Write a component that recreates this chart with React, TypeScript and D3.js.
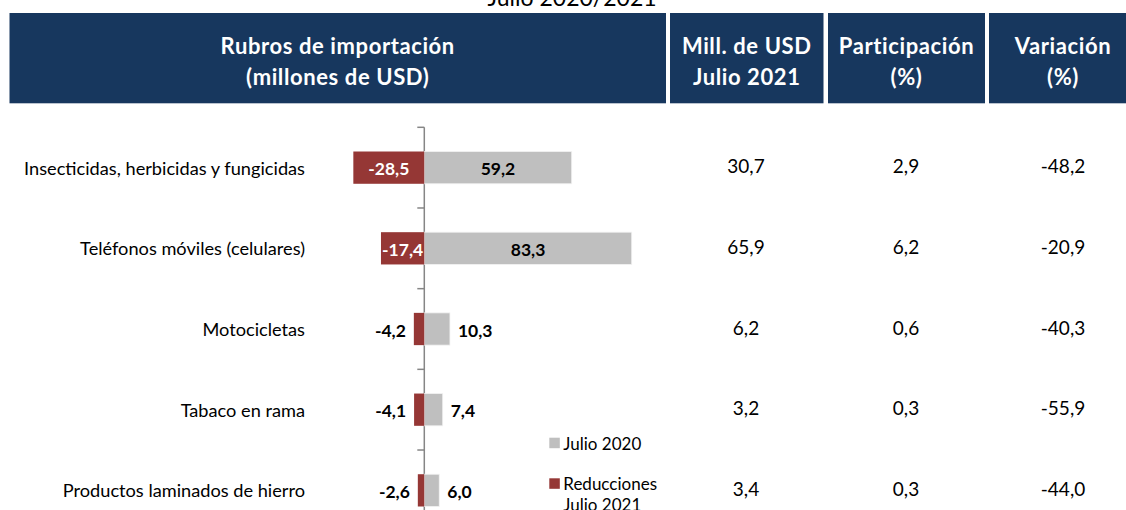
import React from "react";
import * as d3 from "d3";

// rubros y valores (millones de USD)
const categories = [
  "Insecticidas, herbicidas y fungicidas",
  "Teléfonos móviles (celulares)",
  "Motocicletas",
  "Tabaco en rama",
  "Productos laminados de hierro",
];
const julio2020 = [59.2, 83.3, 10.3, 7.4, 6.0];
const reducciones = [-28.5, -17.4, -4.2, -4.1, -2.6];
const mill2021 = [30.7, 65.9, 6.2, 3.2, 3.4];
const participacion = [2.9, 6.2, 0.6, 0.3, 0.3];
const variacion = [-48.2, -20.9, -40.3, -55.9, -44.0];

const headers = [
  ["Rubros de importación", "(millones de USD)"],
  ["Mill. de USD", "Julio 2021"],
  ["Participación", "(%)"],
  ["Variación", "(%)"],
];
const legendLabels = [["Julio 2020"], ["Reducciones", "Julio 2021"]];

const W = 1126, H = 510;
const BLUE = "#17375E", RED = "#953735", GRAY = "#BFBFBF";
const FONT = "Lato, 'Open Sans', sans-serif";

const fmt = (v: number) => v.toFixed(1).replace(".", ",");

export default function App() {
  const x = d3.scaleLinear().domain([-40, 100]).range([324.7, 673.3]);
  const y = d3
    .scaleBand<string>()
    .domain(categories)
    .range([127.3, 530.7])
    .paddingInner(0.6)
    .paddingOuter(0.3);
  const bw = y.bandwidth();
  const x0 = x(0);

  // header boxes
  const boxes = [
    [9.5, 666],
    [670, 823.5],
    [828, 985],
    [989, 1137],
  ];
  const colX = [746, 906, 1063];

  const ticks = categories.map((c) => (y(c) as number) - y.step() * 0.3);
  ticks.push(530.7);

  return (
    <svg
      width={W}
      height={H}
      style={{ position: "absolute", left: 0, top: 0, background: "#fff" }}
      fontFamily={FONT}
    >
      <text x={572} y={6} textAnchor="middle" fontSize={23} fill="#000">
        Julio 2020/2021
      </text>

      {boxes.map(([a, b], i) => (
        <g key={i}>
          <rect x={a} y={13} width={b - a} height={90.3} fill={BLUE} />
          {headers[i].map((t, j) => (
            <text
              key={j}
              x={(a + b) / 2}
              y={45 + j * 31}
              textAnchor="middle"
              dominantBaseline="central"
              fill="#fff"
              fontWeight="bold"
              fontSize={22}
              letterSpacing={0.6}
            >
              {t}
            </text>
          ))}
        </g>
      ))}

      {/* axis */}
      <line x1={x0} x2={x0} y1={127.3} y2={530.7} stroke="#868686" strokeWidth={1.5} />
      {ticks.map((t, i) => (
        <line key={i} x1={x0 - 7} x2={x0} y1={t} y2={t} stroke="#868686" strokeWidth={1.5} />
      ))}

      {categories.map((c, i) => {
        const top = y(c) as number;
        const cy = top + bw / 2;
        const g = julio2020[i];
        const r = reducciones[i];
        const gw = x(g) - x0;
        const rw = x0 - x(r);
        const gIn = gw > 60;
        const rIn = rw > 40;
        return (
          <g key={c}>
            <text
              x={305}
              y={cy}
              textAnchor="end"
              dominantBaseline="central"
              fontSize={18.2}
              fill="#000"
            >
              {c}
            </text>
            <rect x={x0} y={top} width={gw} height={bw} fill={GRAY} stroke="#f2f2f2" strokeWidth={0.8} />
            <rect x={x(r)} y={top} width={rw} height={bw} fill={RED} />
            <text
              x={gIn ? x0 + gw / 2 : x(g) + 8}
              y={cy + 1}
              textAnchor={gIn ? "middle" : "start"}
              dominantBaseline="central"
              fontWeight="bold"
              fontSize={17.5}
              fill="#000"
            >
              {fmt(g)}
            </text>
            <text
              x={rIn ? x(r) + rw / 2 : x(r) - 8}
              y={cy + 1}
              textAnchor={rIn ? "middle" : "end"}
              dominantBaseline="central"
              fontWeight="bold"
              fontSize={17.5}
              fill={rIn ? "#fff" : "#000"}
            >
              {fmt(r)}
            </text>
            {[mill2021[i], participacion[i], variacion[i]].map((v, k) => (
              <text
                key={k}
                x={colX[k]}
                y={cy - 2}
                textAnchor="middle"
                dominantBaseline="central"
                fontSize={19}
                fill="#000"
              >
                {fmt(v)}
              </text>
            ))}
          </g>
        );
      })}

      {/* legend */}
      {[GRAY, RED].map((col, i) => (
        <g key={i} transform={`translate(549.3, ${437.7 + i * 40.6})`}>
          <rect width={10.5} height={10.5} fill={col} />
          {legendLabels[i].map((t, j) => (
            <text
              key={j}
              x={14}
              y={5.5 + j * 21}
              dominantBaseline="central"
              fontSize={17}
              fill="#000"
            >
              {t}
            </text>
          ))}
        </g>
      ))}
    </svg>
  );
}
